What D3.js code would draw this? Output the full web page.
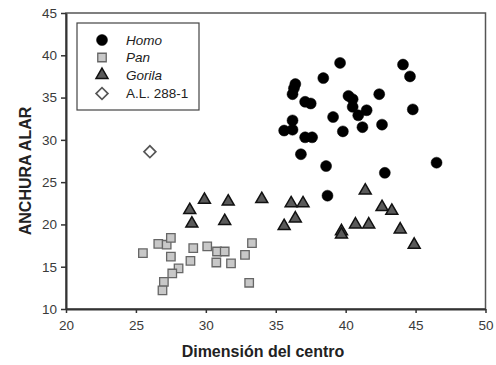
<html>
<head>
<script src="https://d3js.org/d3.v7.min.js"></script>
<style>
  body { margin: 0; background: #fff; }
  text { font-family: "Liberation Sans", Arial, sans-serif; }
</style>
</head>
<body>
<div id="chart"></div>
<script>
var xTicks = [20, 25, 30, 35, 40, 45, 50];
var yTicks = [10, 15, 20, 25, 30, 35, 40, 45];

var homoX = [39.6, 38.4, 36.4, 36.3, 36.2, 37.1, 37.5, 40.2, 40.5, 40.5, 41.5, 40.9, 42.4, 44.1, 44.6, 44.8,
             39.1, 36.2, 35.6, 36.2, 37.1, 37.6, 39.8, 41.2, 42.6, 36.8, 38.6, 42.8, 46.5, 38.7];
var homoY = [39.1, 37.3, 36.6, 36.1, 35.4, 34.5, 34.3, 35.2, 34.8, 33.9, 33.5, 32.9, 35.4, 38.9, 37.5, 33.6,
             32.7, 32.3, 31.1, 31.2, 30.3, 30.3, 31.0, 31.5, 31.8, 28.3, 26.9, 26.1, 27.3, 23.4];

var panX = [25.5, 26.6, 27.2, 27.5, 27.5, 29.1, 28.9, 28.05, 27.6, 27.0, 26.9, 30.1, 30.8, 31.35, 30.75, 31.8, 32.8, 33.1, 33.3];
var panY = [16.6, 17.7, 17.6, 18.4, 16.2, 17.2, 15.7, 14.8, 14.2, 13.2, 12.2, 17.4, 16.8, 16.8, 15.5, 15.4, 16.4, 13.1, 17.8];

var gorX = [29.9, 31.6, 28.85, 29.0, 31.35, 34.0, 36.1, 36.95, 36.4, 35.6, 41.4, 42.6, 43.3, 39.7, 39.7, 40.7, 41.65, 43.9, 44.9];
var gorY = [22.9, 22.7, 21.7, 20.1, 20.4, 23.0, 22.5, 22.5, 20.7, 19.8, 24.0, 22.05, 21.6, 19.2, 18.8, 20.0, 20.0, 19.4, 17.6];

var alX = [26.0];
var alY = [28.6];

var legendNames = ["Homo", "Pan", "Gorila", "A.L. 288-1"];

var W = 496, H = 365;
var margin = {left: 66, right: 10.5, top: 13, bottom: 56};

var svg = d3.select("#chart").append("svg").attr("width", W).attr("height", H);

var x = d3.scaleLinear().domain([20, 50]).range([margin.left, W - margin.right]);
var y = d3.scaleLinear().domain([10, 45]).range([H - margin.bottom, margin.top]);

// frame
svg.append("rect")
  .attr("x", x(20)).attr("y", y(45))
  .attr("width", x(50) - x(20)).attr("height", y(10) - y(45))
  .attr("fill", "none").attr("stroke", "#555").attr("stroke-width", 1.5);

var xAxis = svg.append("g")
  .attr("transform", "translate(0," + y(10) + ")")
  .call(d3.axisBottom(x).tickValues(xTicks).tickSize(4).tickPadding(7).tickSizeOuter(0));
var yAxis = svg.append("g")
  .attr("transform", "translate(" + x(20) + ",0)")
  .call(d3.axisLeft(y).tickValues(yTicks).tickSize(5).tickPadding(4).tickSizeOuter(0));

[xAxis, yAxis].forEach(function(a) {
  a.select(".domain").attr("stroke", "#333").attr("stroke-width", 2);
  a.selectAll(".tick line").attr("stroke", "#333").attr("stroke-width", 1.5);
  a.selectAll(".tick text").attr("fill", "#3a3a3a").style("font-size", "13.5px")
    .style("font-family", "'Liberation Sans', Arial, sans-serif");
});

// axis titles
svg.append("text")
  .attr("x", 263).attr("y", 357)
  .attr("text-anchor", "middle").style("font-size", "16px").style("font-weight", "bold")
  .attr("fill", "#222").text("Dimensión del centro");
svg.append("text")
  .attr("transform", "translate(31,171) rotate(-90)")
  .attr("text-anchor", "middle").style("font-size", "16px").style("font-weight", "bold")
  .attr("fill", "#222").text("ANCHURA ALAR");

var sym = {
  circle: d3.symbol().type(d3.symbolCircle).size(95),
  square: d3.symbol().type(d3.symbolSquare).size(72),
  triangle: d3.symbol().type(d3.symbolTriangle).size(62),
  diamond: d3.symbol().type(d3.symbolSquare).size(70)
};

function drawSeries(xs, ys, path, fill, stroke, sw, rot) {
  svg.append("g").selectAll("path")
    .data(xs.map(function(v, i) { return [v, ys[i]]; }))
    .enter().append("path")
    .attr("d", path)
    .attr("transform", function(d) {
      return "translate(" + x(d[0]) + "," + y(d[1]) + ")" + (rot ? " rotate(45)" : "");
    })
    .attr("fill", fill).attr("stroke", stroke).attr("stroke-width", sw);
}

drawSeries(panX, panY, sym.square, "#c8c8c8", "#666", 1.3);
drawSeries(gorX, gorY, sym.triangle, "#5a5a5a", "#111", 1.5);
drawSeries(homoX, homoY, sym.circle, "#000", "#000", 0.5);
drawSeries(alX, alY, sym.diamond, "#fff", "#555", 1.7, true);

// legend
var lg = svg.append("g");
lg.append("rect").attr("x", 77).attr("y", 23).attr("width", 122).attr("height", 87)
  .attr("fill", "#fff").attr("stroke", "#444").attr("stroke-width", 1.2);
var lsym = [
  {p: sym.circle, f: "#000", s: "#000", w: 0.5, r: false},
  {p: sym.square, f: "#c8c8c8", s: "#666", w: 1.3, r: false},
  {p: sym.triangle, f: "#5a5a5a", s: "#111", w: 1.5, r: false},
  {p: sym.diamond, f: "#fff", s: "#555", w: 1.7, r: true}
];
var rowY = [40, 57.5, 75, 93.5];
legendNames.forEach(function(n, i) {
  lg.append("path").attr("d", lsym[i].p)
    .attr("transform", "translate(102," + rowY[i] + ")" + (lsym[i].r ? " rotate(45)" : ""))
    .attr("fill", lsym[i].f).attr("stroke", lsym[i].s).attr("stroke-width", lsym[i].w);
  lg.append("text").attr("x", 126).attr("y", rowY[i] + 4.5)
    .style("font-size", "13.5px").style("font-style", i < 3 ? "italic" : "normal")
    .attr("fill", "#222").text(n);
});
</script>
</body>
</html>
